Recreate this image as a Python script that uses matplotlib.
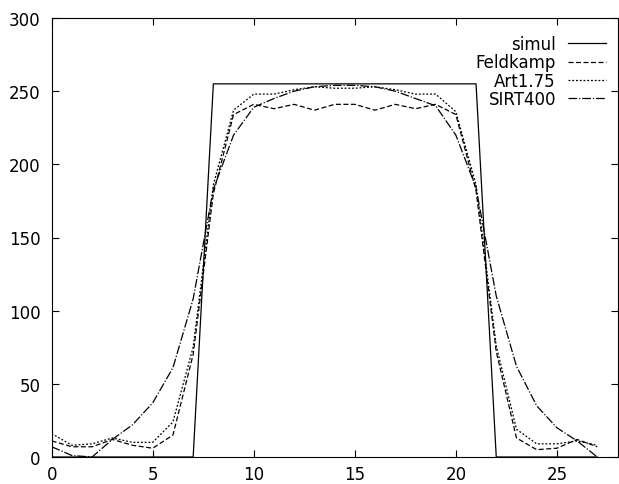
import matplotlib
matplotlib.use('Agg')
import matplotlib.pyplot as plt
import numpy as np

# profile values, one per pixel position 0..27
xpos = list(range(28))
simul = [0, 0, 0, 0, 0, 0, 0, 0, 255, 255, 255, 255, 255, 255,
         255, 255, 255, 255, 255, 255, 255, 255, 0, 0, 0, 0, 0, 0]
feldkamp = [11, 7, 7, 12, 8, 6, 15, 70, 180, 234, 241, 238, 241, 237,
            241, 241, 237, 241, 238, 241, 234, 182, 72, 13, 5, 6, 12, 7]
art175 = [16, 8, 9, 13, 10, 10, 24, 75, 186, 237, 248, 248, 251, 253,
          252, 252, 253, 251, 248, 248, 236, 186, 76, 19, 9, 9, 11, 8]
sirt400 = [7, 1, 0, 12, 22, 37, 61, 108, 183, 220, 239, 245, 250, 253,
           254, 254, 253, 250, 245, 240, 220, 184, 110, 62, 35, 20, 11, 0]

xticks = [0, 5, 10, 15, 20, 25]
yticks = [0, 50, 100, 150, 200, 250, 300]

plt.rcParams['font.family'] = ['DejaVu Sans']
plt.rcParams['font.size'] = 12

fig = plt.figure(figsize=(6.19, 4.85), dpi=100)
ax = fig.add_axes([51.7/619, 27/485, (617.5-51.7)/619, (458-19)/485])

lw = 0.9
ax.plot(xpos, simul, color='black', lw=lw, label='simul')
ax.plot(xpos, feldkamp, color='black', lw=lw, linestyle=(0, (4, 2)), label='Feldkamp')
ax.plot(xpos, art175, color='black', lw=lw, linestyle=(0, (1.5, 1.5)), label='Art1.75')
ax.plot(xpos, sirt400, color='black', lw=lw, linestyle=(0, (7, 1.5, 1, 1.5)), label='SIRT400')

ax.set_xlim(0, 28)
ax.set_ylim(0, 300)
ax.set_xticks(xticks)
ax.set_yticks(yticks)
ax.tick_params(direction='in', length=5, width=0.8, top=True, right=True)
ax.tick_params(axis='x', pad=6)
ax.tick_params(axis='y', pad=8)
for s in ax.spines.values():
    s.set_linewidth(0.8)

ax.legend(loc='upper right', bbox_to_anchor=(606/619, 1-36/485),
          bbox_transform=fig.transFigure, frameon=False, markerfirst=False,
          borderpad=0, borderaxespad=0, handlelength=2.3, handletextpad=0.7,
          labelspacing=0.02, fontsize=12)

fig.savefig('out.png', dpi=100)
